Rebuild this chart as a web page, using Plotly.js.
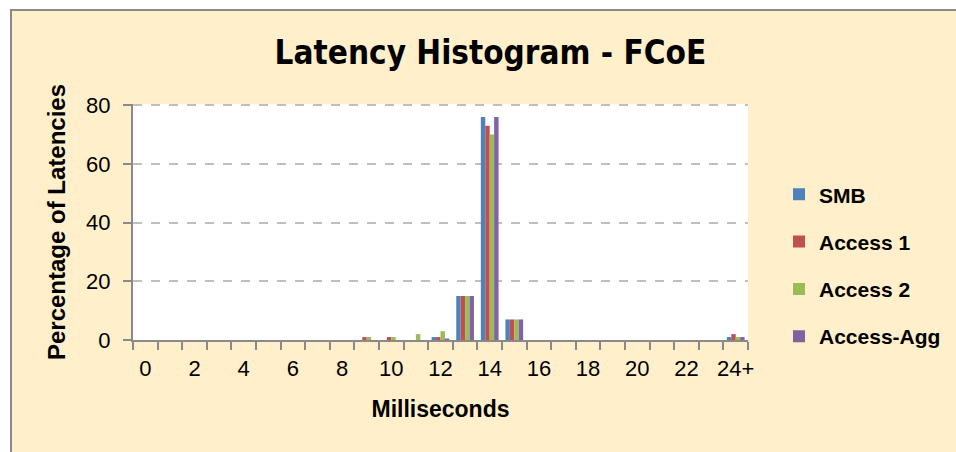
<!DOCTYPE html>
<html>
<head>
<meta charset="utf-8">
<script src="https://cdn.plot.ly/plotly-3.0.1.min.js"></script>
<style>
  html, body { margin: 0; padding: 0; background: #ffffff; }
  #frame { position: absolute; left: 10px; top: 9px; width: 960px; height: 460px;
           background: #FFEFCA; border-left: 2px solid #8a8a8a; border-top: 2px solid #8a8a8a; }
  #chart { position: absolute; left: 0; top: 0; width: 956px; height: 452px; }
</style>
</head>
<body>
<div id="frame"></div>
<div id="chart"></div>
<script>
const categories = ["0","1","2","3","4","5","6","7","8","9","10","11","12","13","14","15","16","17","18","19","20","21","22","23","24+"];
const smb      = [0,0,0,0,0,0,0,0,0,0,0,0,1,15,76,7,0,0,0,0,0,0,0,0,1];
const access1  = [0,0,0,0,0,0,0,0,0,1,1,0,1,15,73,7,0,0,0,0,0,0,0,0,2];
const access2  = [0,0,0,0,0,0,0,0,0,1,1,2,3,15,70,7,0,0,0,0,0,0,0,0,1];
const accessAgg= [0,0,0,0,0,0,0,0,0,0,0,0,0.5,15,76,7,0,0,0,0,0,0,0,0,1];
const seriesNames = ["SMB","Access 1","Access 2","Access-Agg"];
const seriesColors = ["#4F81BD","#C0504D","#9BBB59","#8064A2"];
const yTicks = [0,20,40,60,80];

const allSeries = [smb, access1, access2, accessAgg];
const traces = allSeries.map((vals, i) => ({
  type: "bar",
  name: seriesNames[i],
  x: categories,
  y: vals,
  legendgroup: "g" + i,
  marker: { color: seriesColors[i], line: { width: 0 } }
}));

const tickFont = { family: "Liberation Sans, Arial, sans-serif", size: 22, color: "#000000" };

const layout = {
  width: 956, height: 452,
  paper_bgcolor: "rgba(0,0,0,0)",
  plot_bgcolor: "#ffffff",
  margin: { l: 133, r: 208, t: 104, b: 112 },
  barmode: "group",
  bargap: 0.28,
  bargroupgap: 0,
  title: {
    text: "<b>Latency Histogram - FCoE</b>",
    font: { family: "DejaVu Sans Condensed, DejaVu Sans, sans-serif", size: 33, color: "#000000" },
    xref: "container", x: 0.513, xanchor: "center",
    yref: "container", y: 0.885, yanchor: "middle"
  },
  xaxis: {
    type: "category",
    categoryorder: "array",
    categoryarray: categories,
    tickmode: "linear", tick0: 0, dtick: 1,
    tickson: "boundaries",
    tickangle: 0,
    ticks: "outside", ticklen: 8, tickwidth: 2, tickcolor: "#8a8a8a",
    ticklabelstep: 2,
    ticklabelstandoff: 8,
    showline: true, linecolor: "#8a8a8a", linewidth: 2,
    showgrid: false,
    tickfont: tickFont,
    title: { text: "<b>Milliseconds</b>", font: { family: "Liberation Sans, Arial, sans-serif", size: 23, color: "#000" }, standoff: 20 }
  },
  yaxis: {
    range: [0, 80.4],
    tickvals: yTicks,
    ticktext: yTicks.map(String),
    ticks: "outside", ticklen: 8, tickwidth: 2, tickcolor: "#8a8a8a",
    ticklabelstandoff: 8,
    showline: true, linecolor: "#8a8a8a", linewidth: 2,
    showgrid: true, gridcolor: "#bfbfbf", gridwidth: 2, griddash: "dash",
    zeroline: false,
    tickfont: tickFont,
    title: { text: "<b>Percentage of Latencies</b>", font: { family: "Liberation Sans, Arial, sans-serif", size: 24, color: "#000" }, standoff: 14 }
  },
  legend: {
    xref: "container", xanchor: "left",
    y: 0.315, yanchor: "middle",
    bgcolor: "rgba(0,0,0,0)",
    font: { family: "Liberation Sans, Arial, sans-serif", size: 21, color: "#000", weight: "bold" },
    tracegroupgap: 17,
    traceorder: "grouped"
  },
  showlegend: true
};
layout.legend.x = 779 / 956;

Plotly.newPlot("chart", traces, layout, { displayModeBar: false, staticPlot: true });
</script>
</body>
</html>
